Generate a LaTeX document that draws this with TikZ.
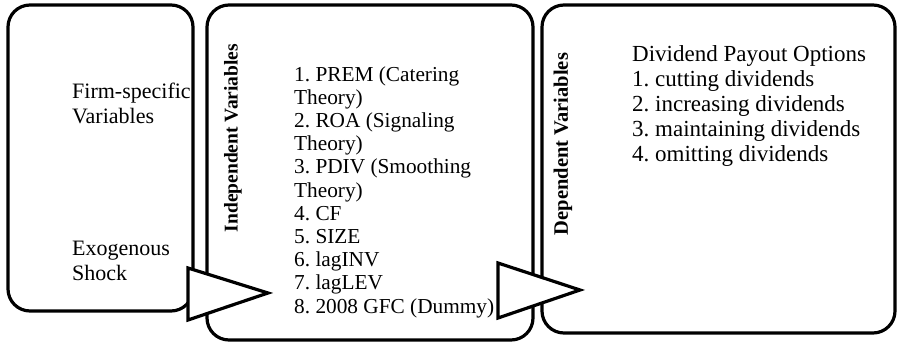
\documentclass[tikz,border=0pt]{standalone}
\usepackage{fontspec}
\setmainfont{Liberation Serif}
\frenchspacing
\begin{document}
\begin{tikzpicture}[x=1pt,y=-1pt,
  panel/.style={draw=black,line width=3.2pt,rounded corners=22pt,fill=white},
  flowtri/.style={draw=black,line width=3.2pt,fill=white,line join=miter},
  body/.style={anchor=base west,inner sep=0pt,align=left,font=\fontsize{21.3}{23.2}\selectfont},
  sidelabel/.style={rotate=90,inner sep=0pt,font=\fontsize{19.5}{22}\selectfont\bfseries}]
\useasboundingbox (0,0) rectangle (899,343);
\draw[panel] (8,5) rectangle (193,311);
\draw[panel] (207,5) rectangle (533,340);
\draw[panel] (542,5) rectangle (895,333);
% anchor base west of a multi-line node = baseline of its last line
\node[body,font=\fontsize{22}{25}\selectfont] (firm) at (72,123) {Firm-specific\\Variables};
\node[body,font=\fontsize{22}{25}\selectfont] (exo) at (72,280) {Exogenous\\Shock};
\node[sidelabel] (ind) at (233,138) {Independent Variables};
\node[sidelabel,font=\fontsize{20.5}{22}\selectfont\bfseries] (dep) at (563,144) {Dependent Variables};
\node[body] (list) at (294,313) {1. PREM (Catering\\Theory)\\2. ROA (Signaling\\Theory)\\3. PDIV (Smoothing\\Theory)\\4. CF\\5. SIZE\\6. lagINV\\7. lagLEV\\8. 2008 GFC (Dummy)};
\node[body,font=\fontsize{23}{25}\selectfont] (opts) at (632,161) {Dividend Payout Options\\1. cutting dividends\\2. increasing dividends\\3. maintaining dividends\\4. omitting dividends};
\draw[flowtri] (188,268) -- (188,320) -- (268,293) -- cycle;
\draw[flowtri] (498,263) -- (498,318) -- (580,290) -- cycle;
\end{tikzpicture}
\end{document}
